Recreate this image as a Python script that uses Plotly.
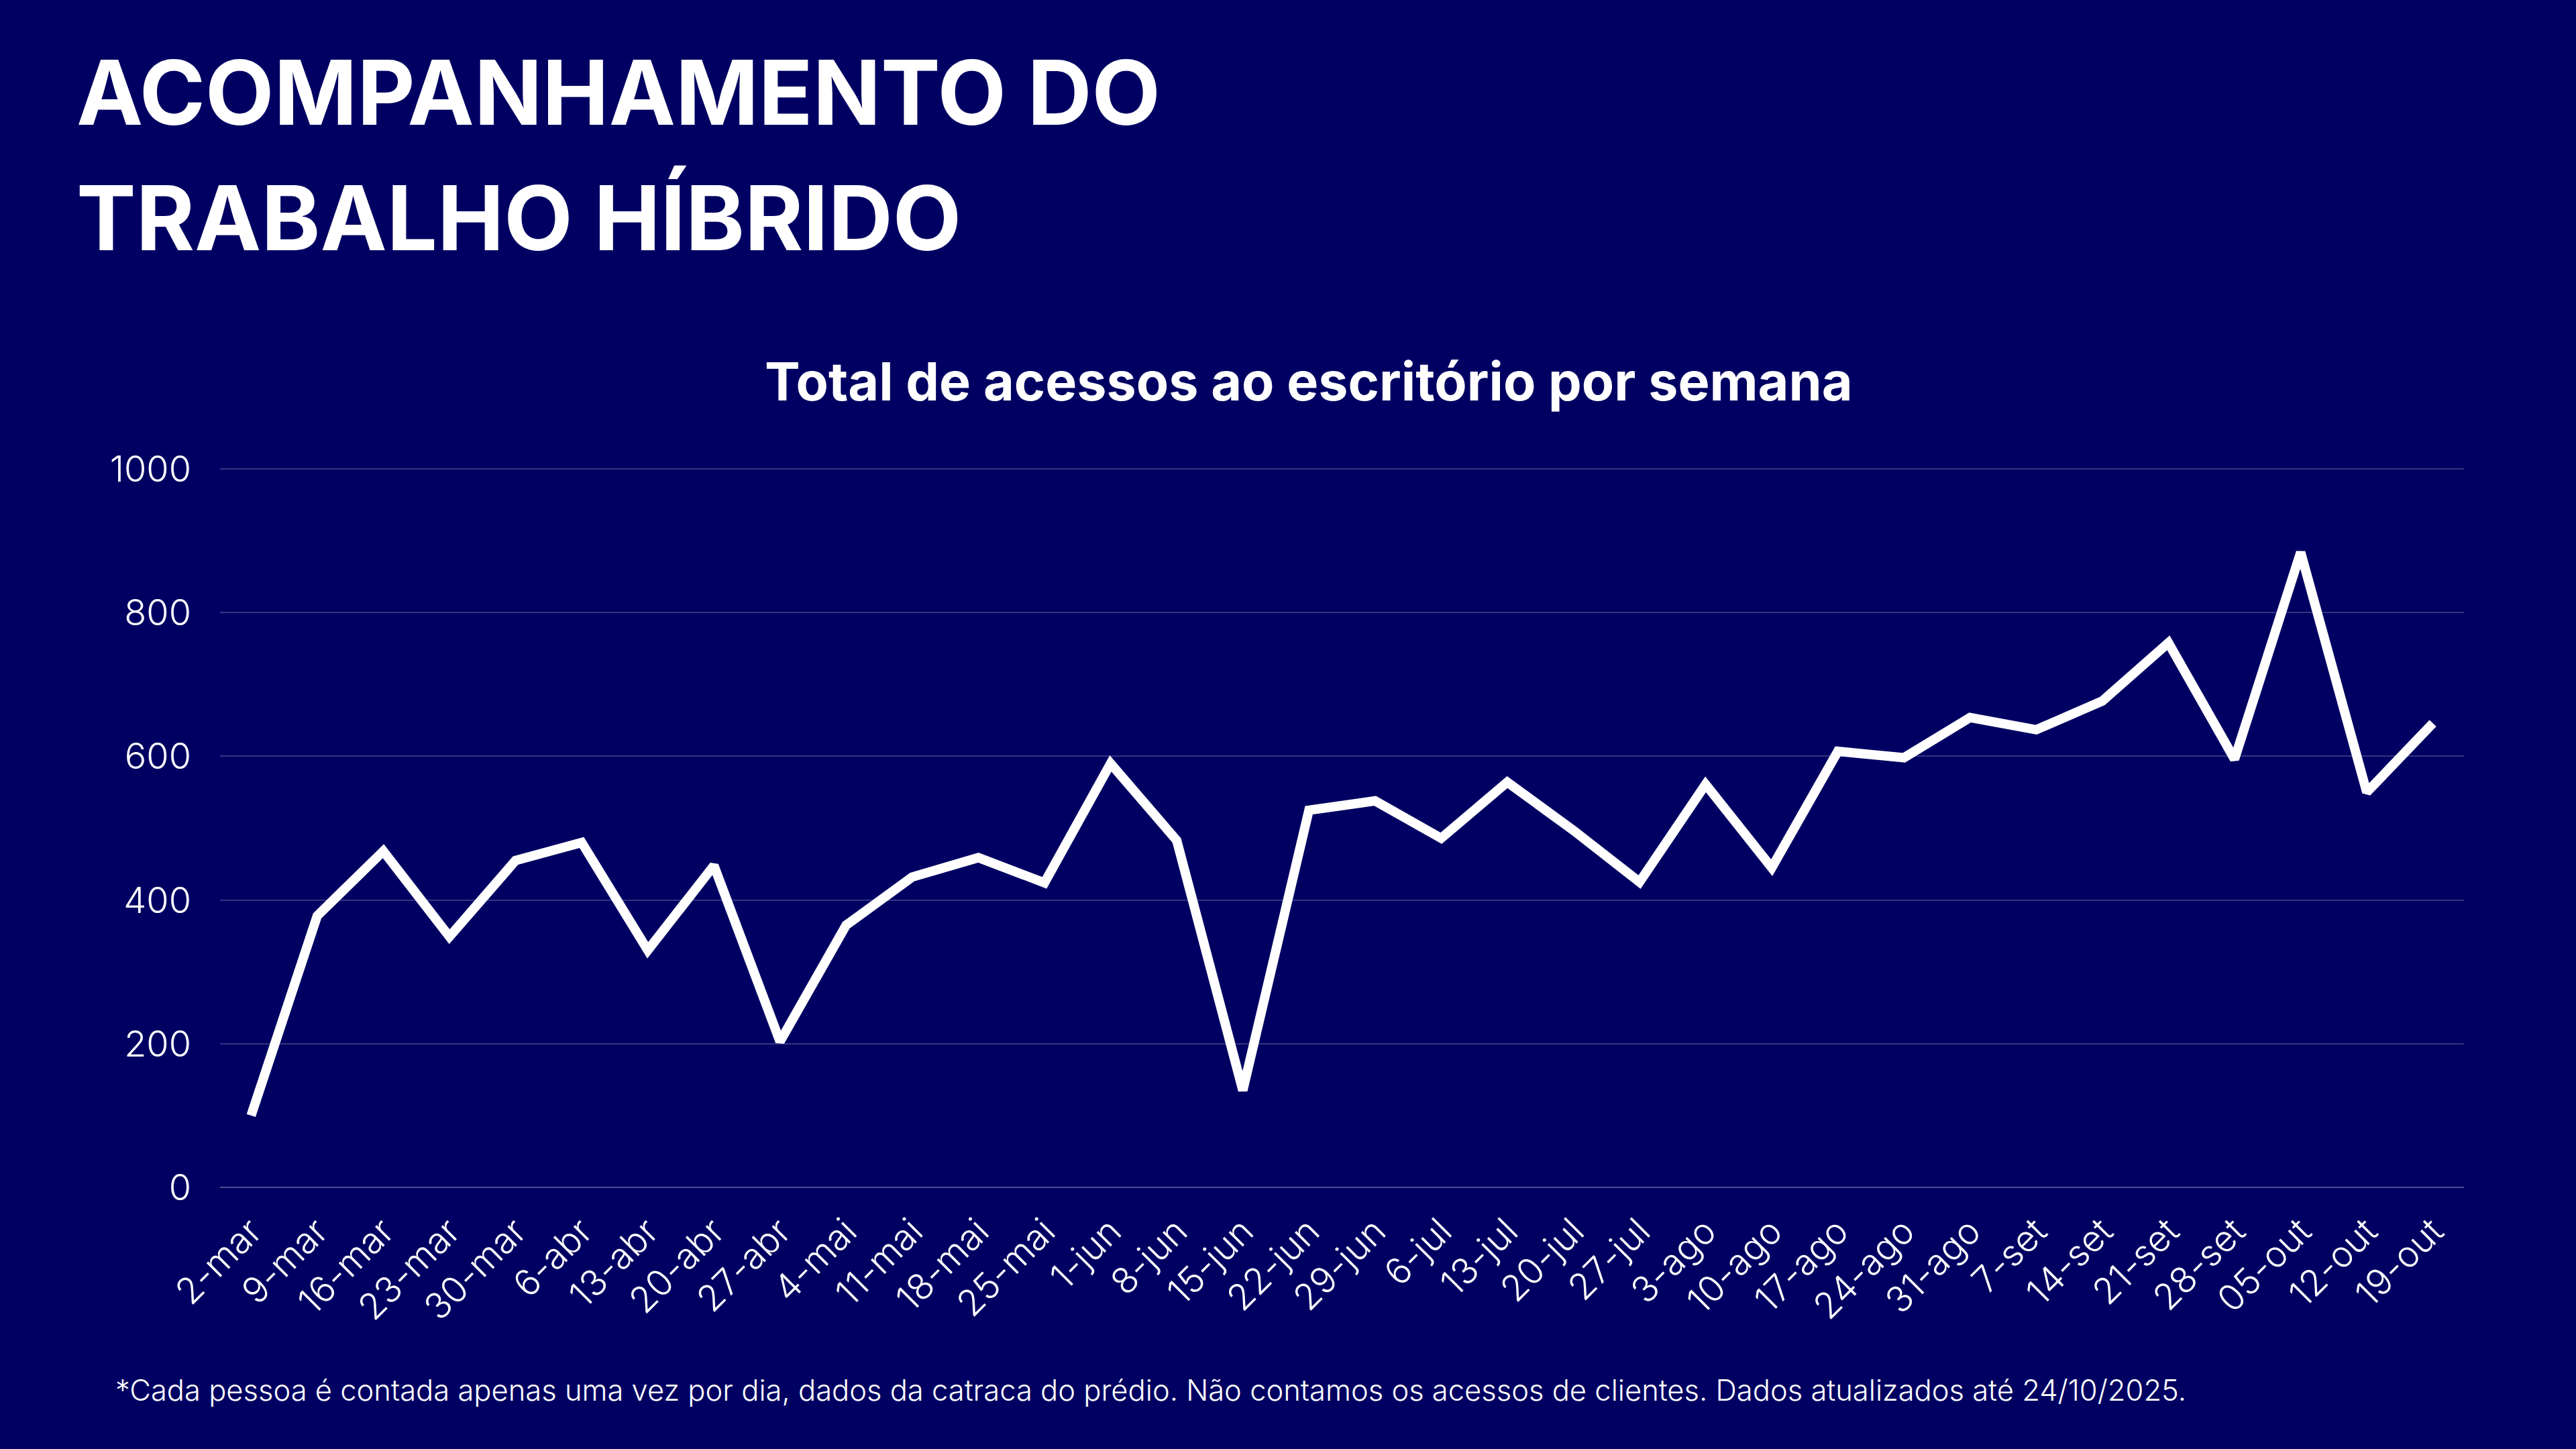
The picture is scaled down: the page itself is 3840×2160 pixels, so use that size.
import plotly.graph_objects as go

semanas = ["2-mar", "9-mar", "16-mar", "23-mar", "30-mar", "6-abr", "13-abr", "20-abr",
           "27-abr", "4-mai", "11-mai", "18-mai", "25-mai", "1-jun", "8-jun", "15-jun",
           "22-jun", "29-jun", "6-jul", "13-jul", "20-jul", "27-jul", "3-ago", "10-ago",
           "17-ago", "24-ago", "31-ago", "7-set", "14-set", "21-set", "28-set", "05-out",
           "12-out", "19-out"]
acessos = [100, 378, 468, 349, 455, 480, 330, 448,
           203, 365, 432, 459, 424, 590, 483, 135,
           525, 538, 486, 564, 497, 425, 561, 445,
           607, 598, 654, 637, 677, 758, 596, 884,
           550, 646]
y_ticks = [0, 200, 400, 600, 800, 1000]

titulo_l1 = "ACOMPANHAMENTO DO"
titulo_l2 = "TRABALHO HÍBRIDO"
subtitulo = "Total de acessos ao escritório por semana"
rodape = ("*Cada pessoa é contada apenas uma vez por dia, dados da catraca do prédio. "
          "Não contamos os acessos de clientes. Dados atualizados até 24/10/2025.")

BG = "#000062"
W, H = 3840, 2160
L, R, T, B = 328, 167, 698, 390
PW, PH = W - L - R, H - T - B
FONT = "Inter"


def px_x(p):
    return (p - L) / PW


def px_y(p):
    return (H - B - p) / PH


fig = go.Figure()
fig.add_trace(go.Scatter(
    x=semanas, y=acessos, mode="lines",
    line=dict(color="white", width=14, shape="linear"),
    hoverinfo="x+y",
))

fig.update_layout(
    width=W, height=H,
    paper_bgcolor=BG, plot_bgcolor=BG,
    margin=dict(l=L, r=R, t=T, b=B),
    showlegend=False,
    font=dict(family=FONT, color="white"),
    xaxis=dict(
        type="category",
        range=[-0.47, len(semanas) - 0.53],
        tickangle=-45,
        tickfont=dict(size=54, family=FONT, color="white", weight=300),
        showgrid=False, showline=False, zeroline=False,
        ticks="", ticklen=0, ticklabelstandoff=22,
    ),
    yaxis=dict(
        range=[0, 1001],
        tickvals=y_ticks,
        tickfont=dict(size=54, family=FONT, color="white", weight=300),
        showgrid=True, gridcolor="rgba(255,255,255,0.2)", gridwidth=2,
        zeroline=True, zerolinecolor="rgba(255,255,255,0.3)", zerolinewidth=2,
        showline=False, ticks="", ticklabelstandoff=42,
    ),
    annotations=[
        dict(text=titulo_l1, x=px_x(112), y=px_y(137), xref="paper", yref="paper",
             xanchor="left", yanchor="middle", showarrow=False,
             font=dict(size=133, family=FONT, color="white", weight=700)),
        dict(text=titulo_l2, x=px_x(112), y=px_y(324), xref="paper", yref="paper",
             xanchor="left", yanchor="middle", showarrow=False,
             font=dict(size=133, family=FONT, color="white", weight=700)),
        dict(text=subtitulo, x=px_x(1951), y=px_y(568), xref="paper", yref="paper",
             xanchor="center", yanchor="middle", showarrow=False,
             font=dict(size=79, family=FONT, color="white", weight=700)),
        dict(text=rodape, x=px_x(170), y=px_y(2072), xref="paper", yref="paper",
             xanchor="left", yanchor="middle", showarrow=False,
             font=dict(size=43.5, family=FONT, color="white", weight=300)),
    ],
)

fig.write_html("out.html")
